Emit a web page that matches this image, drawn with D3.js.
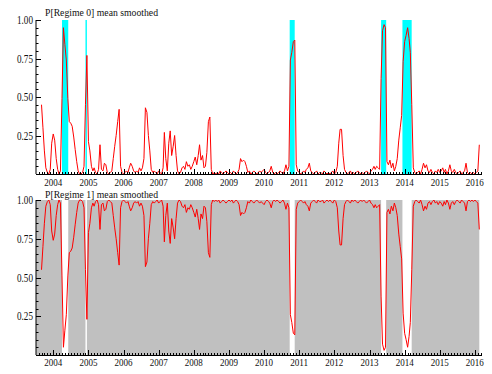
<!DOCTYPE html>
<html><head><meta charset="utf-8">
<script src="https://cdn.jsdelivr.net/npm/d3@7"></script>
<style>body{margin:0;background:#fff}svg{display:block}</style>
</head><body><svg id="c" width="492" height="374"></svg>
<script>
// half-monthly observations starting at startDate
const startDate = "2003-09-01";
const regime0 = [
0.45,0.30,0.15,0.04,0.01,0.00,0.03,0.20,0.26,0.22,
0.10,0.03,0.00,0.02,0.49,0.95,0.84,0.74,0.49,0.34,
0.33,0.31,0.24,0.16,0.08,0.02,0.00,0.00,0.01,0.05,
0.45,0.77,0.21,0.15,0.05,0.02,0.04,0.01,0.00,0.03,
0.19,0.03,0.02,0.07,0.06,0.01,0.00,0.01,0.02,0.10,
0.18,0.25,0.34,0.42,0.05,0.01,0.00,0.01,0.02,0.01,
0.04,0.07,0.05,0.02,0.01,0.02,0.01,0.04,0.02,0.04,
0.10,0.43,0.40,0.25,0.15,0.03,0.01,0.02,0.01,0.00,
0.02,0.01,0.00,0.04,0.27,0.10,0.02,0.20,0.28,0.12,
0.18,0.25,0.12,0.02,0.00,0.01,0.04,0.05,0.03,0.08,
0.05,0.06,0.03,0.05,0.08,0.11,0.06,0.12,0.19,0.09,
0.12,0.04,0.05,0.14,0.34,0.37,0.03,0.00,0.01,0.00,
0.01,0.00,0.02,0.01,0.00,0.01,0.02,0.01,0.00,0.01,
0.00,0.02,0.01,0.00,0.01,0.03,0.10,0.08,0.09,0.08,
0.05,0.01,0.02,0.00,0.01,0.02,0.01,0.00,0.01,0.02,
0.01,0.02,0.03,0.01,0.00,0.01,0.02,0.05,0.01,0.00,
0.01,0.00,0.01,0.02,0.01,0.00,0.02,0.06,0.02,0.05,
0.74,0.79,0.86,0.87,0.06,0.02,0.01,0.00,0.01,0.02,
0.01,0.03,0.04,0.07,0.02,0.01,0.00,0.01,0.02,0.00,
0.01,0.01,0.00,0.02,0.01,0.00,0.01,0.00,0.01,0.02,
0.00,0.01,0.05,0.20,0.29,0.29,0.12,0.03,0.01,0.00,
0.01,0.02,0.00,0.01,0.00,0.01,0.02,0.01,0.00,0.01,
0.00,0.01,0.02,0.01,0.00,0.02,0.03,0.05,0.03,0.05,
0.04,0.03,0.62,0.93,0.97,0.95,0.08,0.06,0.09,0.04,
0.07,0.02,0.05,0.10,0.22,0.30,0.38,0.73,0.86,0.90,
0.95,0.88,0.79,0.45,0.04,0.01,0.00,0.01,0.02,0.00,
0.03,0.07,0.04,0.06,0.02,0.01,0.03,0.01,0.00,0.02,
0.01,0.03,0.01,0.02,0.04,0.01,0.03,0.00,0.02,0.06,
0.02,0.01,0.03,0.01,0.00,0.01,0.02,0.00,0.01,0.02,
0.07,0.01,0.00,0.01,0.00,0.01,0.00,0.01,0.02,0.19
];
// two-regime smoothed probabilities are complementary
const regime1 = regime0.map(p => 1 - p);
const regime0Start = ["2004-04-01","2004-12-01","2010-09-24","2013-05-01","2013-12-09"];
const regime0End   = ["2004-06-05","2004-12-16","2010-11-15","2013-06-23","2014-03-15"];
const yTickValues = [0.25,0.50,0.75,1.00];
const yTickLabels = ["0.25","0.50","0.75","1.00"];
const yearLabels = ["2004","2005","2006","2007","2008","2009","2010","2011","2012","2013","2014","2015","2016"];
const titles = ["P[Regime 0] mean smoothed","P[Regime 1] mean smoothed"];

const parse = d3.utcParse("%Y-%m-%d");
const d0 = parse(startDate);
const dates = regime0.map((_, i) => d3.utcDay.offset(d3.utcMonth.offset(d0, Math.floor(i/2)), (i%2)*15));

const svg = d3.select("#c");
const font = "'Liberation Serif','Times New Roman',serif";
const axisX = 36, axisEnd = 482;
const x = d3.scaleUtc().domain([dates[0], dates[dates.length-1]]).range([41.5, 479.3]);

const panels = [
  {top:20, bottom:174, values: regime0, title: titles[0], titleY: 16, labelY: 185.5, kind: "p0"},
  {top:200, bottom:355, values: regime1, title: titles[1], titleY: 198, labelY: 365.5, kind: "p1"}
];

panels.forEach(p => {
  const y = d3.scaleLinear().domain([0,1]).range([p.bottom, p.top]);
  const g = svg.append("g");
  const bands = regime0Start.map((s,i) => [parse(s), parse(regime0End[i])]);
  if (p.kind === "p0") {
    g.selectAll("rect.band").data(bands).join("rect")
      .attr("x", d => x(d[0])).attr("width", d => x(d[1]) - x(d[0]))
      .attr("y", y(1)).attr("height", y(0) - y(1)).attr("fill", "#00ffff");
  } else {
    g.append("rect").attr("x", axisX).attr("width", x(dates[dates.length-1]) - axisX)
      .attr("y", y(1)).attr("height", y(0) - y(1)).attr("fill", "#c0c0c0");
    g.selectAll("rect.band").data(bands).join("rect")
      .attr("x", d => x(d[0])).attr("width", d => x(d[1]) - x(d[0]))
      .attr("y", y(1)).attr("height", y(0) - y(1)).attr("fill", "#ffffff");
  }
  const line = d3.line().x((d,i) => x(dates[i])).y(d => y(d));
  g.append("path").datum(p.values).attr("d", line)
    .attr("fill", "none").attr("stroke", "#ff0000").attr("stroke-width", 1).attr("stroke-linejoin", "round");

  // axes
  g.append("line").attr("x1", axisX).attr("x2", axisX).attr("y1", y(1)).attr("y2", y(0))
    .attr("stroke", "#000").attr("stroke-width", 1);
  g.append("line").attr("x1", axisX).attr("x2", axisEnd).attr("y1", y(0)+0.5).attr("y2", y(0)+0.5)
    .attr("stroke", "#000").attr("stroke-width", 1);
  // y minor ticks every 0.05
  d3.range(0, 1.0001, 0.05).forEach(v => {
    g.append("line").attr("x1", axisX).attr("x2", axisX + 2.5).attr("y1", Math.round(y(v))+0.5).attr("y2", Math.round(y(v))+0.5)
      .attr("stroke", "#000").attr("stroke-width", 1);
  });
  yTickValues.forEach((v,i) => {
    g.append("line").attr("x1", axisX).attr("x2", axisX + 5).attr("y1", Math.round(y(v))+0.5).attr("y2", Math.round(y(v))+0.5)
      .attr("stroke", "#000").attr("stroke-width", 1);
    g.append("text").attr("x", 33).attr("y", y(v) + 4).attr("text-anchor", "end")
      .attr("font-family", font).attr("font-size", 11.5).attr("fill", "#111")
      .attr("textLength", 16).attr("lengthAdjust", "spacingAndGlyphs").text(yTickLabels[i]);
  });
  // x minor (monthly) and major (yearly) ticks
  const months = d3.utcMonth.range(d3.utcMonth.ceil(x.invert(axisX)), x.invert(axisEnd));
  months.forEach(m => {
    const xm = Math.round(x(m)) + 0.5;
    g.append("line").attr("x1", xm).attr("x2", xm).attr("y1", y(0)).attr("y2", y(0) - 2)
      .attr("stroke", "#000").attr("stroke-width", 1);
  });
  yearLabels.forEach(lbl => {
    const dt = parse(lbl + "-01-01");
    const xm = Math.round(x(dt)) + 0.5;
    g.append("line").attr("x1", xm).attr("x2", xm).attr("y1", y(0)).attr("y2", y(0) - 5)
      .attr("stroke", "#000").attr("stroke-width", 1);
    g.append("text").attr("x", x(dt)).attr("y", p.labelY).attr("text-anchor", "middle")
      .attr("font-family", font).attr("font-size", 11).attr("fill", "#111")
      .attr("textLength", 18).attr("lengthAdjust", "spacingAndGlyphs").text(lbl);
  });
  g.append("text").attr("x", 45).attr("y", p.titleY)
    .attr("font-family", font).attr("font-size", 11).attr("fill", "#111")
    .attr("textLength", 113).attr("lengthAdjust", "spacingAndGlyphs").text(p.title);
});
</script>
</body></html>
